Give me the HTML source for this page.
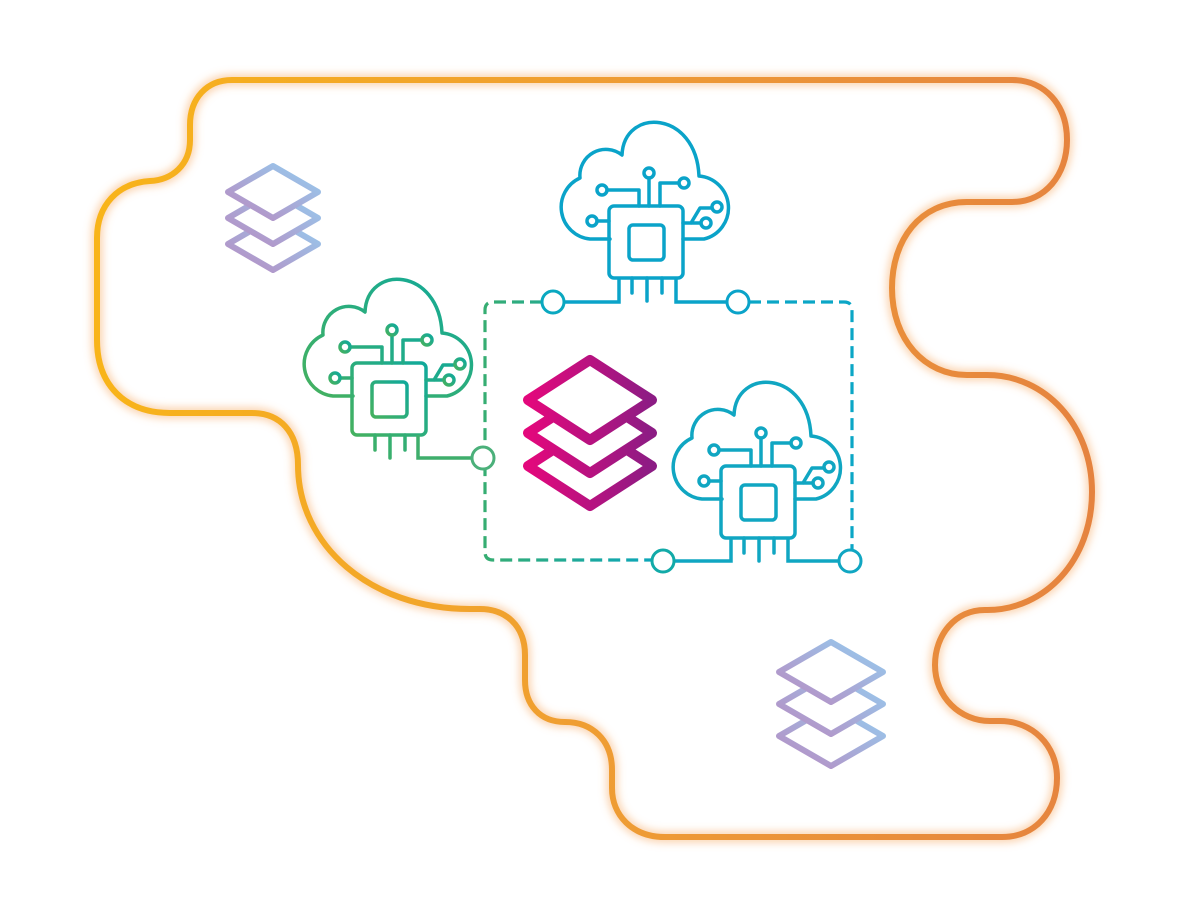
<!DOCTYPE html>
<html><head><meta charset="utf-8"><style>html,body{margin:0;padding:0;background:#fff}svg{display:block}</style></head>
<body>
<svg width="1180" height="915" viewBox="0 0 1180 915" xmlns="http://www.w3.org/2000/svg">
<defs>
<linearGradient id="og" x1="0" y1="0" x2="1" y2="0"><stop offset="0" stop-color="#f8b419"/><stop offset="0.55" stop-color="#ee9b35"/><stop offset="1" stop-color="#e5833f"/></linearGradient>
<linearGradient id="mg" x1="0" y1="0" x2="1" y2="0"><stop offset="0" stop-color="#e3087c"/><stop offset="1" stop-color="#8c1c84"/></linearGradient>
<linearGradient id="pg" x1="0" y1="1" x2="1" y2="0"><stop offset="0" stop-color="#b98bc1"/><stop offset="1" stop-color="#94cdf0"/></linearGradient>
<linearGradient id="gg" x1="0" y1="1" x2="1" y2="0"><stop offset="0" stop-color="#45b15f"/><stop offset="1" stop-color="#10a99b"/></linearGradient>
<linearGradient id="dg" x1="0" y1="0" x2="1" y2="0"><stop offset="0" stop-color="#36ad72"/><stop offset="1" stop-color="#0ba6ba"/></linearGradient>
<filter id="glow" x="-10%" y="-10%" width="120%" height="120%"><feGaussianBlur stdDeviation="4"/></filter>
<g id="icon" fill="none" stroke-width="3.5" stroke-linecap="round" stroke-linejoin="round">
<path d="M -36 -3 H -56 A 32 32 0 0 1 -66 -64 A 26 26 0 0 1 -24 -87 C -22 -135 50 -132 53 -66 A 32 32 0 0 1 58 -3 H 37"/>
<rect x="-37" y="-36" width="74" height="72" rx="5"/>
<rect x="-17" y="-17" width="35" height="35" rx="4"/>
<path d="M 3 -64 V -36 M -39 -52 H -7 V -36 M 14 -36 V -59 H 33 M -49 -21 H -37 M 37 -19 H 55 M 45 -19 L 54 -34 H 66 M -14 36 V 51 M 1 36 V 59 M 16 36 V 51"/>
<circle cx="3" cy="-69" r="5"/><circle cx="-44" cy="-52" r="5"/><circle cx="38" cy="-59" r="5"/>
<circle cx="-54" cy="-21" r="5"/><circle cx="60" cy="-19" r="5"/><circle cx="71" cy="-35" r="5"/>
</g>
</defs>

<path d="M 232 80 H 1012 C 1045 80 1067 105 1067 140 C 1067 175 1045 202 1012 202 H 967 C 920 202 892 240 892 288 C 892 340 925 375 967 375 H 987 C 1045 375 1092 425 1092 492 C 1092 560 1045 610 987 610 H 985 C 955 610 935 635 935 665 C 935 697 960 721 990 721 H 1000 C 1032 721 1057 745 1057 778 C 1057 812 1035 837 1002 837 H 665 C 632 837 612 815 612 788 V 770 C 612 740 592 722 565 722 C 540 722 525 705 525 680 V 655 C 525 625 505 609 480 609 H 470 C 370 609 298 545 298 465 C 298 432 280 413 252 413 H 170 C 125 413 97 385 97 340 V 238 C 97 205 118 183 150 181 C 172 180 190 165 190 140 V 125 C 190 98 207 80 232 80 Z" fill="none" stroke="#f6a35a" stroke-opacity="0.45" stroke-width="12" filter="url(#glow)"/>
<path d="M 232 80 H 1012 C 1045 80 1067 105 1067 140 C 1067 175 1045 202 1012 202 H 967 C 920 202 892 240 892 288 C 892 340 925 375 967 375 H 987 C 1045 375 1092 425 1092 492 C 1092 560 1045 610 987 610 H 985 C 955 610 935 635 935 665 C 935 697 960 721 990 721 H 1000 C 1032 721 1057 745 1057 778 C 1057 812 1035 837 1002 837 H 665 C 632 837 612 815 612 788 V 770 C 612 740 592 722 565 722 C 540 722 525 705 525 680 V 655 C 525 625 505 609 480 609 H 470 C 370 609 298 545 298 465 C 298 432 280 413 252 413 H 170 C 125 413 97 385 97 340 V 238 C 97 205 118 183 150 181 C 172 180 190 165 190 140 V 125 C 190 98 207 80 232 80 Z" fill="none" stroke="url(#og)" stroke-width="6"/>

<g fill="#fff" stroke="url(#pg)" stroke-width="6" stroke-linejoin="round">
<path d="M 273 218 L 318 244 L 273 270 L 228 244 Z"/>
<path d="M 273 192 L 318 218 L 273 244 L 228 218 Z"/>
<path d="M 273 166 L 318 192 L 273 218 L 228 192 Z"/>
</g>
<g fill="#fff" stroke="url(#pg)" stroke-width="6" stroke-linejoin="round">
<path d="M 831 706 L 883 736 L 831 766 L 779 736 Z"/>
<path d="M 831 674 L 883 704 L 831 734 L 779 704 Z"/>
<path d="M 831 642 L 883 672 L 831 702 L 779 672 Z"/>
</g>

<path d="M 542 302 H 493 Q 485 302 485 310 V 552 Q 485 560 493 560 H 652" fill="none" stroke="url(#dg)" stroke-width="3.2" stroke-dasharray="12 6"/>
<path d="M 749 302 H 844 Q 852 302 852 310 V 550" fill="none" stroke="#0ba6c6" stroke-width="3.2" stroke-dasharray="12 6"/>

<g fill="#fff" stroke="url(#mg)" stroke-width="10" stroke-linejoin="round">
<path d="M 590 426 L 652 466 L 590 506 L 528 466 Z"/>
<path d="M 590 393 L 652 433 L 590 473 L 528 433 Z"/>
<path d="M 590 360 L 652 400 L 590 440 L 528 400 Z"/>
</g>

<g stroke="url(#gg)"><use href="#icon" transform="translate(389,399)"/></g>
<path d="M 418 435 V 458 H 472" fill="none" stroke="#3fae6c" stroke-width="3.5"/>
<circle cx="483" cy="458" r="11" fill="#fff" stroke="#4bb07a" stroke-width="3"/>

<g stroke="#0aa3c9"><use href="#icon" transform="translate(646,242)"/></g>
<path d="M 619 278 V 302 H 564 M 676 278 V 302 H 727" fill="none" stroke="#0aa3c9" stroke-width="3.5"/>
<circle cx="553" cy="302" r="11" fill="#fff" stroke="#0aa8c0" stroke-width="3"/>
<circle cx="738" cy="302" r="11" fill="#fff" stroke="#0aa3c9" stroke-width="3"/>

<g stroke="#10a6c2"><use href="#icon" transform="translate(758,502)"/></g>
<path d="M 731 538 V 561 H 674 M 788 538 V 561 H 839" fill="none" stroke="#10a6c2" stroke-width="3.5"/>
<circle cx="663" cy="561" r="11" fill="#fff" stroke="#12aaa8" stroke-width="3"/>
<circle cx="850" cy="561" r="11" fill="#fff" stroke="#10a6c2" stroke-width="3"/>
</svg>
</body></html>
